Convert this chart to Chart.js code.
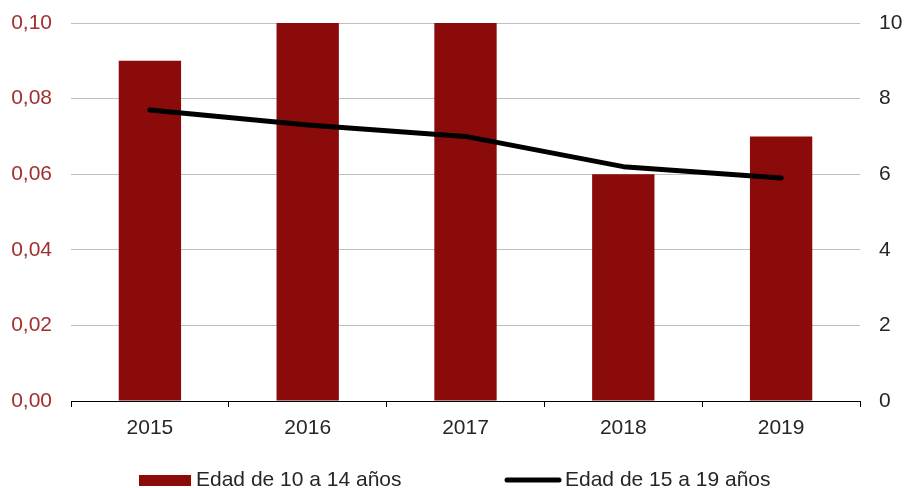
<!DOCTYPE html>
<html>
<head>
<meta charset="utf-8">
<script src="https://cdn.jsdelivr.net/npm/chart.js@4"></script>
<style>
  html, body { margin: 0; padding: 0; background: #fff; }
  #wrap { width: 904px; height: 488px; }
</style>
</head>
<body>
<div id="wrap"><canvas id="chart"></canvas></div>
<script>
let years = ["2015", "2016", "2017", "2018", "2019"];
let edad10a14 = [0.09, 0.10, 0.10, 0.06, 0.07];
let edad15a19 = [7.7, 7.3, 7.0, 6.2, 5.9];
let leftTicks = [0, 0.02, 0.04, 0.06, 0.08, 0.10];
let rightTicks = [0, 2, 4, 6, 8, 10];

let barColor = "#8b0a0a";
let fontFamily = "'Liberation Sans', Arial, sans-serif";

// legend drawn by hand so the spacing matches the original
let bottomLegend = {
    id: "bottomLegend",
    afterDraw(chart) {
        let ctx = chart.ctx;
        let bars = chart.data.datasets[0];
        let line = chart.data.datasets[1];
        ctx.save();
        ctx.font = "21px " + fontFamily;
        ctx.textBaseline = "middle";

        ctx.fillStyle = bars.backgroundColor;
        ctx.fillRect(139, 475, 52, 11);
        ctx.fillStyle = "#262626";
        ctx.fillText(bars.label, 196, 480);

        ctx.strokeStyle = line.borderColor;
        ctx.lineWidth = 5;
        ctx.lineCap = "round";
        ctx.beginPath();
        ctx.moveTo(507, 480);
        ctx.lineTo(559, 480);
        ctx.stroke();
        ctx.fillText(line.label, 565, 480);
        ctx.restore();
    },
};

new Chart("chart", {
    type: "bar",
    data: {
        labels: years,
        datasets: [
            {
                label: "Edad de 10 a 14 años",
                data: edad10a14,
                yAxisID: "y",
                backgroundColor: barColor,
                categoryPercentage: 1,
                barPercentage: 0.395,
                order: 1,
            },
            {
                type: "line",
                label: "Edad de 15 a 19 años",
                data: edad15a19,
                yAxisID: "y1",
                borderColor: "#000",
                backgroundColor: "#000",
                borderWidth: 5,
                borderCapStyle: "round",
                borderJoinStyle: "round",
                pointRadius: 0,
                tension: 0,
                order: 0,
            },
        ],
    },
    plugins: [bottomLegend],
    options: {
        responsive: true,
        maintainAspectRatio: false,
        animation: false,
        layout: { padding: { top: 23, bottom: 47, left: 0, right: 0 } },
        plugins: {
            legend: { display: false },
            tooltip: { enabled: false },
        },
        scales: {
            x: {
                grid: {
                    offset: true,
                    drawOnChartArea: false,
                    color: "#000",
                    tickLength: 6,
                },
                border: { color: "#000", width: 1 },
                ticks: {
                    color: "#262626",
                    padding: 9,
                    font: { family: fontFamily, size: 21 },
                },
                afterFit(scale) {
                    scale.height = 40;
                    scale.paddingLeft = 0;
                    scale.paddingRight = 0;
                },
            },
            y: {
                position: "left",
                min: 0,
                max: 0.1,
                afterBuildTicks(scale) {
                    scale.ticks = leftTicks.map(v => ({ value: v }));
                },
                grid: { color: "#bfbfbf", drawTicks: false },
                border: { display: false },
                ticks: {
                    color: "#a0302f",
                    padding: 19,
                    font: { family: fontFamily, size: 21 },
                    callback: v => v.toFixed(2).replace(".", ","),
                },
                afterFit(scale) {
                    scale.width = 71;
                    scale.paddingTop = 0;
                    scale.paddingBottom = 0;
                },
            },
            y1: {
                position: "right",
                min: 0,
                max: 10,
                afterBuildTicks(scale) {
                    scale.ticks = rightTicks.map(v => ({ value: v }));
                },
                grid: { display: false, drawTicks: false },
                border: { display: false },
                ticks: {
                    color: "#262626",
                    padding: 19,
                    font: { family: fontFamily, size: 21 },
                },
                afterFit(scale) {
                    scale.width = 44;
                    scale.paddingTop = 0;
                    scale.paddingBottom = 0;
                },
            },
        },
    },
});
</script>
</body>
</html>
